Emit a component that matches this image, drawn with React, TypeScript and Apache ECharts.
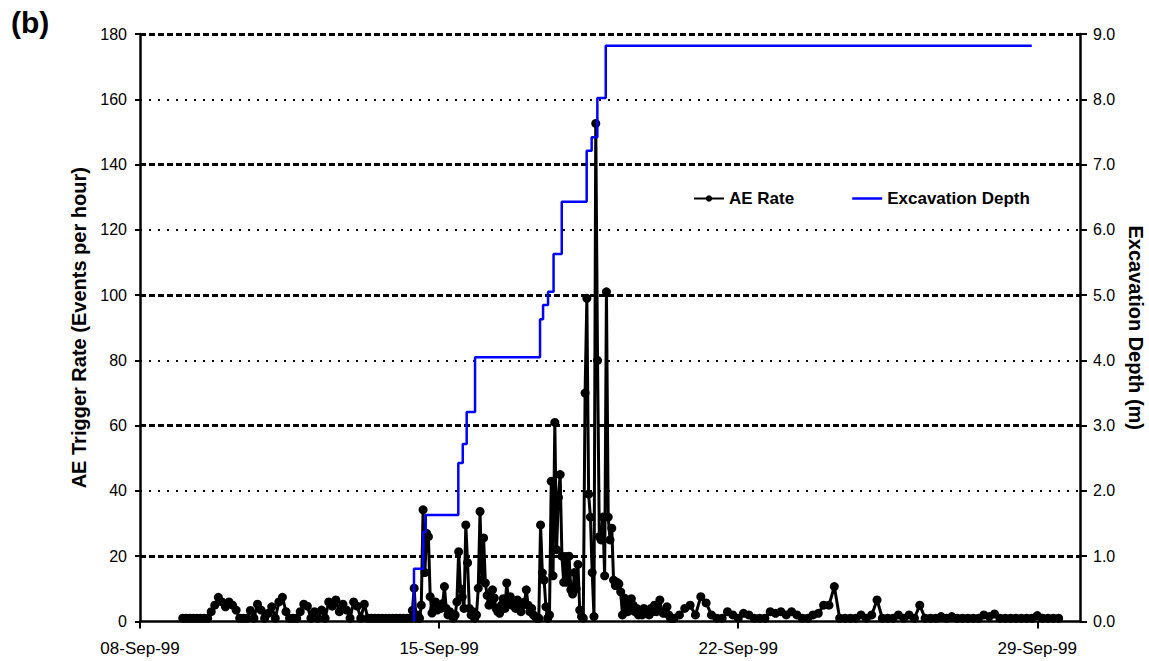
import React, { useEffect, useRef } from "react";
import * as echarts from "echarts";

const FONT = "'Liberation Sans', Arial, Helvetica, sans-serif";

// Time runs in hours from 08-Sep-99 00:00.
const dateTickLabels = ["08-Sep-99", "15-Sep-99", "22-Sep-99", "29-Sep-99"];
const weekHours = 168;
const axisEndHour = 528; // 30-Sep-99 00:00

const rateTicks = [0, 20, 40, 60, 80, 100, 120, 140, 160, 180];
const depthTicks = [0, 1, 2, 3, 4, 5, 6, 7, 8, 9];

// AE trigger rate (events per hour), 09-Sep to 14-Sep, two-hourly
const aeEarlyStartHour = 24;
const aeEarlyStepHours = 2;
const aeRateSep09to14 = [
  1, 1, 1, 1, 1, 1, 1, 1,
  3, 5, 7.4, 6, 4.5, 6, 5, 3.5,
  1, 1, 1, 3.4, 1, 5.3, 3.5, 1,
  2.5, 4.5, 1, 6, 7.4, 3, 1, 1,
  1, 3, 5.3, 4.7, 1, 3, 1, 3.5,
  1, 6, 4.7, 6.6, 3, 5.3, 3.5, 1,
  6, 4.7, 1, 5.3, 1, 1, 1, 1,
  1, 1, 1, 1, 1, 1, 1, 1,
  1,
];

// AE trigger rate, 14-Sep 09:00 to 20-Sep 12:00, hourly
const aeActiveStartHour = 153;
const aeRateSep14to20 = [
  3.4, 10.2, 1, 2, 1, 5, 34.2, 15, 27, 26,
  7.6, 2.6, 4, 6, 3.5, 5, 4, 5.5, 10.7, 4,
  2, 3, 2, 1, 2, 6, 21.4, 10, 7.6, 4,
  29.6, 18, 4, 2, 3, 1, 2, 10.2, 33.7, 12.7,
  25.6, 11.8, 8, 5, 6, 9.7, 7.2, 4, 3, 2.5,
  5, 7, 4, 11.8, 6, 7.6, 5, 6, 4, 6.6,
  4.5, 3, 5, 6, 9.7, 5, 3, 4, 2, 1.5,
  1, 1, 29.6, 14.9, 12.7, 4.5, 1, 2, 43, 14,
  61, 22, 38, 45, 20, 12, 19.9, 12, 20, 9.7,
  8.4, 15, 10, 17.5, 3.5, 1.5, 1, 70, 99, 39,
  32, 15, 1.5, 152.6, 80, 26, 25, 32, 14, 101,
  32, 25, 28.6, 12.7, 11, 12, 11.5, 9.1, 2, 7.2,
  5, 3, 6, 7, 5, 3, 4, 2, 3, 2,
  4, 2.5, 3, 2, 4, 3, 5, 3, 4, 6.6,
  3, 2.5, 3, 4.5, 2, 1, 1,
];

// AE trigger rate, 20-Sep to 29-Sep, three-hourly
const aeLateStartHour = 300;
const aeLateStepHours = 3;
const aeRateSep20to29 = [
  1, 2, 4, 5, 2, 7.6, 5.7, 2, 1, 1,
  3, 2, 1, 2.5, 2, 1, 1, 1, 3, 2.5,
  3, 2, 3, 2, 1, 1, 2, 2.5, 5, 5,
  10.7, 1, 1, 1, 1, 2, 1, 2, 6.6, 1,
  1, 1, 2, 1, 2, 1, 5, 1, 1, 1,
  1.5, 1, 1.5, 1, 1, 1, 1, 1, 2, 1.5,
  2.3, 1, 1, 1, 1, 1, 1, 1, 1.8, 1,
  1, 1, 1,
];

// Excavation depth (m): the depth reached at each step
const depthHours = [
  153.9, 153.9, 159.1, 160.5, 178.8, 181.3, 183.5, 188.2, 224.7,
  226.4, 229.2, 232.3, 236.9, 250.9, 253.7, 256.9, 261.6, 500.9,
];
const depthMetres = [
  0, 0.81, 1.37, 1.63, 2.43, 2.72, 3.21, 4.05, 4.63,
  4.85, 5.05, 5.63, 6.43, 7.21, 7.42, 8.02, 8.82, 8.82,
];

const sampled = (start: number, step: number, values: number[]) =>
  values.map((v, i) => [start + i * step, v]);

const aeRateData = [
  ...sampled(aeEarlyStartHour, aeEarlyStepHours, aeRateSep09to14),
  ...sampled(aeActiveStartHour, 1, aeRateSep14to20),
  ...sampled(aeLateStartHour, aeLateStepHours, aeRateSep20to29),
];
const depthData = depthHours.map((h, i) => [h, depthMetres[i]]);

const thickGrid = { color: "#000", width: 3, type: [6, 3] };
const dottedGrid = { color: "#000", width: 2, type: [2, 7] };

export default function App() {
  const ref = useRef<HTMLDivElement>(null);

  useEffect(() => {
    if (!ref.current) return;
    const chart = echarts.init(ref.current, undefined, { renderer: "svg" });
    const axisLine = { show: true, onZero: false, lineStyle: { color: "#000", width: 2.5 } };
    const tickStyle = { color: "#000", width: 2 };

    chart.setOption({
      animation: false,
      backgroundColor: "#fff",
      textStyle: { fontFamily: FONT, color: "#000" },
      title: {
        text: "(b)",
        left: 11,
        top: 7,
        padding: 0,
        textStyle: { fontFamily: FONT, fontSize: 30, fontWeight: "bold", color: "#000" },
      },
      legend: {
        data: [
          { name: "AE Rate" },
          { name: "Excavation Depth", icon: "path://M0,0 L30,0 L30,2.5 L0,2.5 Z" },
        ],
        left: 693,
        top: 190,
        padding: 0,
        itemWidth: 30,
        itemHeight: 8,
        itemGap: 58,
        textStyle: { fontFamily: FONT, fontSize: 17, fontWeight: "bold", color: "#000" },
      },
      grid: { left: 140, right: 69, top: 34, bottom: 39.5, containLabel: false, outerBoundsMode: "none" },
      xAxis: {
        type: "value",
        min: 0,
        max: axisEndHour,
        interval: weekHours,
        axisLine,
        axisTick: { show: true, inside: false, length: 7, lineStyle: tickStyle },
        splitLine: { show: false },
        axisLabel: {
          fontFamily: FONT,
          fontSize: 17,
          color: "#000",
          margin: 18,
          showMaxLabel: false,
          formatter: (v: number) => dateTickLabels[v / weekHours] ?? "",
        },
      },
      yAxis: [
        {
          type: "value",
          position: "left",
          min: rateTicks[0],
          max: rateTicks[rateTicks.length - 1],
          interval: rateTicks[1] - rateTicks[0],
          name: "AE Trigger Rate (Events per hour)",
          nameLocation: "middle",
          nameRotate: 90,
          nameGap: 42,
          nameTextStyle: { fontFamily: FONT, fontSize: 20, fontWeight: "bold", color: "#000" },
          axisLine,
          axisTick: { show: true, inside: false, length: 5, lineStyle: tickStyle },
          splitLine: { show: false },
          axisLabel: { fontFamily: FONT, fontSize: 16, color: "#000", margin: 13 },
        },
        {
          type: "value",
          position: "right",
          min: depthTicks[0],
          max: depthTicks[depthTicks.length - 1],
          interval: depthTicks[1] - depthTicks[0],
          name: "Excavation Depth (m)",
          nameLocation: "middle",
          nameRotate: -90,
          nameGap: 44,
          nameTextStyle: { fontFamily: FONT, fontSize: 20, fontWeight: "bold", color: "#000" },
          axisLine,
          axisTick: { show: true, inside: false, length: 7, lineStyle: tickStyle },
          splitLine: { show: false },
          axisLabel: {
            fontFamily: FONT,
            fontSize: 16,
            color: "#000",
            margin: 13,
            formatter: (v: number) => v.toFixed(1),
          },
        },
      ],
      series: [
        {
          name: "gridlines",
          type: "line",
          yAxisIndex: 0,
          data: [],
          silent: true,
          z: 1,
          markLine: {
            silent: true,
            symbol: ["none", "none"],
            label: { show: false },
            emphasis: { disabled: true },
            data: rateTicks.slice(1).map((v, i) => ({
              yAxis: v,
              lineStyle: i % 2 === 0 ? thickGrid : dottedGrid,
            })),
          },
        },
        {
          name: "AE Rate",
          type: "line",
          yAxisIndex: 0,
          data: aeRateData,
          symbol: "circle",
          symbolSize: 9,
          showSymbol: true,
          z: 10,
          lineStyle: { color: "#000", width: 3 },
          itemStyle: { color: "#000" },
          emphasis: { disabled: true },
        },
        {
          name: "Excavation Depth",
          type: "line",
          yAxisIndex: 1,
          data: depthData,
          step: "end",
          symbol: "none",
          z: 11,
          lineStyle: { color: "#0000ff", width: 2.5 },
          itemStyle: { color: "#0000ff" },
          emphasis: { disabled: true },
        },
      ],
    });

    return () => chart.dispose();
  }, []);

  return (
    <div
      ref={ref}
      style={{ position: "absolute", left: 0, top: 0, width: 1149, height: 661, background: "#fff" }}
    />
  );
}
